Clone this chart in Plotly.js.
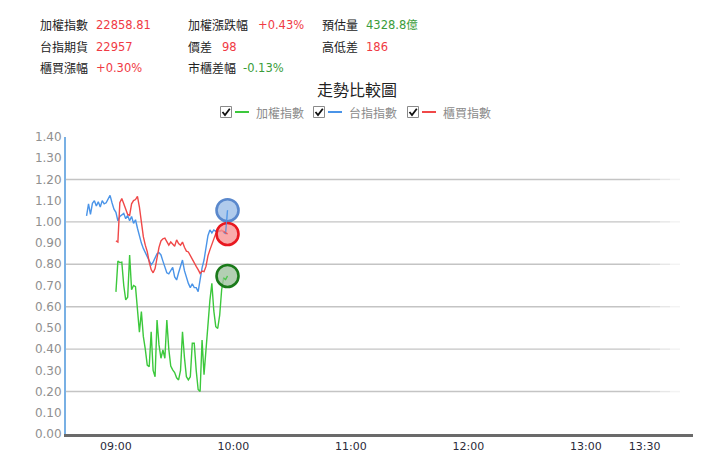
<!DOCTYPE html>
<html>
<head>
<meta charset="utf-8">
<script src="https://cdn.plot.ly/plotly-3.0.1.min.js"></script>
<style>
html,body{margin:0;padding:0;background:#ffffff;}
#chart{width:720px;height:471px;}
</style>
</head>
<body>
<div id="chart"></div>
<script>
// ---------------- data ----------------
const chartTitle = '走勢比較圖';
const seriesNames = ['加權指數', '台指指數', '櫃買指數'];

// one value per minute, starting at the given time
const greenStart = '09:00';   // 加權指數
const greenValues = [0.67,0.815,0.808,0.81,0.70,0.632,0.645,0.844,0.68,0.70,0.694,0.60,0.48,0.577,0.46,0.40,0.325,0.317,0.482,0.30,0.27,0.537,0.42,0.357,0.396,0.357,0.537,0.40,0.32,0.302,0.29,0.265,0.255,0.30,0.482,0.36,0.27,0.255,0.27,0.428,0.428,0.30,0.21,0.20,0.443,0.28,0.40,0.55,0.63,0.71,0.58,0.506,0.498,0.56,0.68,0.735,0.728,0.745];

const blueStart = '08:45';    // 台指指數
const blueValues = [1.028,1.085,1.035,1.087,1.10,1.075,1.095,1.07,1.10,1.085,1.09,1.11,1.125,1.09,1.06,
  1.045,1.005,1.025,1.035,1.04,1.015,1.03,1.005,1.025,0.993,1.01,0.97,0.93,0.90,0.875,0.855,0.835,0.815,0.797,0.81,0.83,0.85,0.855,0.844,0.815,0.79,0.76,0.755,0.772,0.785,0.74,0.726,0.76,0.785,0.82,0.77,0.735,0.71,0.69,0.708,0.69,0.69,0.671,0.735,0.783,0.82,0.88,0.935,0.962,0.948,0.962,0.955,0.96,0.955,0.96,0.95,0.945,1.055];

const redStart = '09:00';     // 櫃買指數
const redValues = [0.91,0.905,1.09,1.11,1.085,1.06,1.035,1.03,1.085,1.10,1.105,1.12,1.07,1.0,0.93,0.89,0.86,0.81,0.775,0.76,0.78,0.83,0.88,0.91,0.92,0.923,0.905,0.89,0.905,0.897,0.885,0.915,0.898,0.89,0.905,0.88,0.862,0.858,0.84,0.82,0.805,0.79,0.775,0.757,0.768,0.765,0.79,0.84,0.868,0.895,0.92,0.945,0.955,0.958,0.96,0.955,0.95,0.943];

const xTickTimes = ['09:00','10:00','11:00','12:00','13:00','13:30'];
const yTickValues = [0.0,0.1,0.2,0.3,0.4,0.5,0.6,0.7,0.8,0.9,1.0,1.1,1.2,1.3,1.4];
const gridValues = [0.2,0.4,0.6,0.8,1.0,1.2];

const infoLabels = [['加權指數','加權漲跌幅','預估量'],['台指期貨','價差','高低差'],['櫃買漲幅','市櫃差幅','']];
const infoValues = [['22858.81','+0.43%','4328.8億'],['22957','98','186'],['+0.30%','-0.13%','']];
const infoUp = [[true,true,false],[true,true,true],[true,false,true]];

// ---------------- helpers ----------------
const DAY = '2024-01-02 ';
function timeSeq(start, n){
  const p = start.split(':').map(Number);
  const base = p[0]*60 + p[1];
  const out = [];
  for (let i=0;i<n;i++){
    const m = base + i;
    const h = Math.floor(m/60), mm = m%60;
    out.push(DAY + String(h).padStart(2,'0') + ':' + String(mm).padStart(2,'0') + ':00');
  }
  return out;
}
const W = 720, H = 471;
const M = {l:66, r:27, t:137, b:37};
const PW = W - M.l - M.r, PH = H - M.t - M.b;
function px(x){ return (x - M.l)/PW; }
function py(y){ return (H - M.b - y)/PH; }

const GREEN = '#3cc83c', BLUE = '#4a94e8', RED = '#f04848';
const colors = [GREEN, BLUE, RED];
const ringFill = ['rgba(160,195,160,0.8)','rgba(150,185,230,0.75)','rgba(248,150,150,0.8)'];
const ringLine = ['#1a7a1a','#5a88cc','#e81820'];

const series = [
  {x: timeSeq(greenStart, greenValues.length), y: greenValues},
  {x: timeSeq(blueStart, blueValues.length), y: blueValues},
  {x: timeSeq(redStart, redValues.length), y: redValues}
];

const traces = [];
series.forEach((s,i)=>{
  traces.push({type:'scatter', mode:'lines', x:s.x, y:s.y, name:seriesNames[i],
    line:{color:colors[i], width:1.4}, hoverinfo:'skip', showlegend:false});
});
[0,1,2].forEach(i=>{
  const s = series[i];
  traces.push({type:'scatter', mode:'markers', x:[s.x[s.x.length-1]], y:[s.y[s.y.length-1]],
    marker:{size:22, color:ringFill[i], line:{color:ringLine[i], width:2.6}},
    hoverinfo:'skip', showlegend:false});
});
// final line segments show through the rings
series.forEach((s,i)=>{
  const n = s.x.length;
  traces.push({type:'scatter', mode:'lines', x:s.x.slice(n-3), y:s.y.slice(n-3),
    line:{color:colors[i], width:1.2}, opacity:0.8, hoverinfo:'skip', showlegend:false});
});

// ---------------- shapes ----------------
const shapes = [];
gridValues.forEach(v=>{
  shapes.push({type:'line', xref:'paper', yref:'y', x0:0, x1:px(640), y0:v, y1:v,
    line:{color:'#c4c4c4', width:1.4}, layer:'below'});
  const fade = [[640,650,0.8],[650,660,0.6],[660,670,0.4],[670,680,0.2]];
  fade.forEach(f=>{
    shapes.push({type:'line', xref:'paper', yref:'y', x0:px(f[0]), x1:px(f[1]), y0:v, y1:v,
      line:{color:'#c4c4c4', width:1.4}, opacity:f[2], layer:'below'});
  });
});

// legend (checkbox + line + label)
const legendBox = [226, 319, 413];
const legendY = 112;
const annotations = [];
legendBox.forEach((cx,i)=>{
  shapes.push({type:'rect', xref:'paper', yref:'paper',
    x0:px(cx-5.5), x1:px(cx+5.5), y0:py(legendY+5.5), y1:py(legendY-5.5),
    line:{color:'#8a8a8a', width:1}, fillcolor:'#ffffff'});
  shapes.push({type:'path', xref:'paper', yref:'paper',
    path:'M '+px(cx-3.5)+' '+py(legendY)+' L '+px(cx-1)+' '+py(legendY+3)+' L '+px(cx+3.8)+' '+py(legendY-3.2),
    line:{color:'#111111', width:1.8}});
  shapes.push({type:'line', xref:'paper', yref:'paper',
    x0:px(cx+9), x1:px(cx+23), y0:py(legendY), y1:py(legendY),
    line:{color:colors[i], width:2}});
  annotations.push({xref:'paper', yref:'paper', x:px(cx+28), y:py(legendY), xanchor:'left', yanchor:'middle',
    text:seriesNames[i], showarrow:false,
    font:{family:'"Noto Sans CJK TC", sans-serif', size:12, color:'#8a8a8a'}});
});

// info header
const colLabelX = [38, 186, 320];
const colValueX = [94, [256,220,241], 364];
const rowY = [25, 46.5, 67.5];
infoLabels.forEach((row,r)=>{
  row.forEach((lab,c)=>{
    if (!lab) return;
    annotations.push({xref:'paper', yref:'paper', x:px(colLabelX[c]), y:py(rowY[r]), xanchor:'left', yanchor:'middle',
      text:lab, showarrow:false, font:{family:'"Noto Sans CJK TC", sans-serif', size:12, color:'#222222'}});
    const vx = Array.isArray(colValueX[c]) ? colValueX[c][r] : colValueX[c];
    annotations.push({xref:'paper', yref:'paper', x:px(vx), y:py(rowY[r]), xanchor:'left', yanchor:'middle',
      text:infoValues[r][c], showarrow:false,
      font:{family:'"DejaVu Sans", "Noto Sans CJK TC", sans-serif', size:11.5, color: infoUp[r][c] ? '#f03a44' : '#3a9c3a'}});
  });
});

// ---------------- layout ----------------
const layout = {
  width:W, height:H,
  margin:M,
  paper_bgcolor:'#ffffff', plot_bgcolor:'#ffffff',
  title:{text:chartTitle, x:357/W, xref:'container', xanchor:'center', y:1-90/H, yanchor:'middle',
    font:{family:'"Noto Sans CJK TC", sans-serif', size:16, color:'#222222'}},
  xaxis:{type:'date', range:[DAY+'08:34:30', DAY+'13:54:45'],
    tickvals:xTickTimes.map(t=>DAY+t+':00'), ticktext:xTickTimes,
    showgrid:false, zeroline:false, showline:true, linecolor:'#6a6a6a', linewidth:3,
    ticks:'', tickfont:{family:'"DejaVu Sans", sans-serif', size:11, color:'#2a2a3a'}},
  yaxis:{range:[0,1.4], tickvals:yTickValues, ticktext:yTickValues.map(v=>v.toFixed(2)),
    showgrid:false, zeroline:false, showline:true, linecolor:'#78b0e4', linewidth:2,
    ticks:'', tickfont:{family:'"DejaVu Sans", sans-serif', size:12, color:'#909090'}},
  shapes:shapes,
  annotations:annotations,
  showlegend:false
};

Plotly.newPlot('chart', traces, layout, {staticPlot:true, displayModeBar:false});
</script>
</body>
</html>
